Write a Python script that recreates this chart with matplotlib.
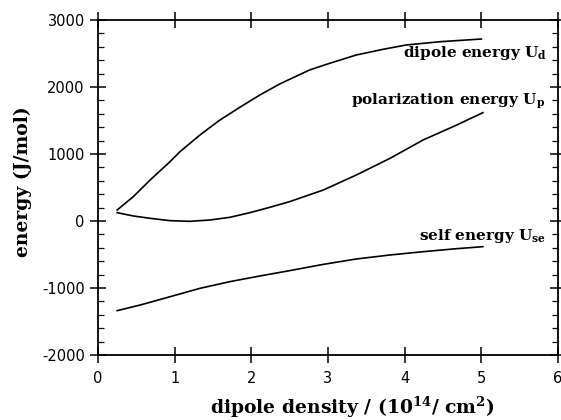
import matplotlib
matplotlib.use("Agg")
import matplotlib.pyplot as plt
from matplotlib.ticker import MultipleLocator

# values (x in 1e14/cm^2, energies in J/mol)
dipole_x = [0.25, 0.46, 0.68, 0.94, 1.07, 1.33, 1.59, 1.85, 2.11, 2.37, 2.50,
            2.76, 3.02, 3.37, 3.72, 4.02, 4.46, 5.0]
dipole_energy = [164, 363, 612, 886, 1035, 1284, 1507, 1697, 1880, 2045, 2115,
                 2254, 2353, 2478, 2563, 2627, 2676, 2716]

polar_x = [0.25, 0.46, 0.68, 0.94, 1.20, 1.46, 1.72, 1.98, 2.24, 2.50, 2.94,
           3.37, 3.81, 4.24, 4.68, 5.02]
polarization_energy = [124, 75, 40, 5, -5, 15, 55, 124, 204, 289, 463, 687,
                       936, 1209, 1433, 1617]

self_x = [0.25, 0.55, 0.94, 1.33, 1.72, 2.11, 2.50, 2.94, 3.37, 3.81, 4.24,
          4.68, 5.02]
self_energy = [-1338, -1254, -1130, -1005, -905, -821, -741, -647, -567, -507,
               -458, -413, -383]

x_ticks = [0, 1, 2, 3, 4, 5, 6]
y_ticks = [-2000, -1000, 0, 1000, 2000, 3000]

plt.rcParams["mathtext.fontset"] = "dejavuserif"
plt.rcParams["axes.unicode_minus"] = False

fig = plt.figure(figsize=(5.61, 4.2), dpi=100)
ax = fig.add_axes([98 / 561, 65 / 420, 460 / 561, 335 / 420])

ax.plot(dipole_x, dipole_energy, color="black", lw=1.2)
ax.plot(polar_x, polarization_energy, color="black", lw=1.2)
ax.plot(self_x, self_energy, color="black", lw=1.2)

ax.set_xlim(0, 6)
ax.set_ylim(-2000, 3000)
ax.set_xticks(x_ticks)
ax.set_yticks(y_ticks)
ax.yaxis.set_minor_locator(MultipleLocator(200))

for side in ax.spines.values():
    side.set_linewidth(1.3)

ax.tick_params(which="major", direction="inout", length=11, width=1.1,
               top=True, right=True, labelsize=10.5, pad=6)
ax.tick_params(which="minor", direction="in", length=4, width=0.9,
               left=True, right=True)
ax.tick_params(axis="y", which="major", pad=4)

label_style = dict(fontfamily="DejaVu Serif", fontweight="bold", fontsize=11,
                   va="center", ha="left")
ax.text(3.98, 2500, r"dipole energy U$_{\mathbf{d}}$", **label_style)
ax.text(3.30, 1790, r"polarization energy U$_{\mathbf{p}}$", **label_style)
ax.text(4.19, -225, r"self energy U$_{\mathbf{se}}$", **label_style)

ax.set_xlabel(r"dipole density / (10$^{\mathbf{14}}$/ cm$^{\mathbf{2}}$)",
              fontfamily="DejaVu Serif", fontweight="bold", fontsize=13.5)
ax.set_ylabel("energy (J/mol)", fontfamily="DejaVu Serif",
              fontweight="bold", fontsize=13.5)
ax.xaxis.set_label_coords(0.552, -0.12)
ax.yaxis.set_label_coords(-0.143, 0.516)

fig.savefig("out.png", dpi=100)
